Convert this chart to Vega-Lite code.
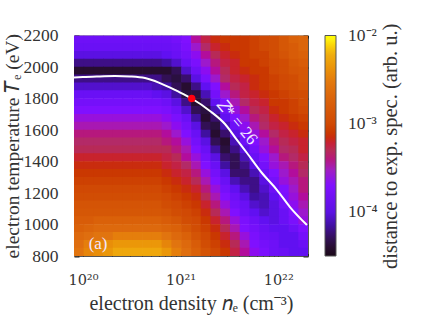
{"$schema":"https://vega.github.io/schema/vega-lite/v6.json","width":234,"height":220.5,"autosize":"none","padding":{"left":74,"top":35.5,"right":128,"bottom":71},"background":"white","config":{"view":{"stroke":"#555","strokeWidth":1},"font":"Liberation Serif"},"resolve":{"axis":{"x":"independent","y":"independent"}},"layer":[{"data":{"values":[
{"n":9.1e19,"T":2175,"v":1.4e-4},{"n":1.15e20,"T":2175,"v":1.4e-4},{"n":1.45e20,"T":2175,"v":1.4e-4},{"n":1.82e20,"T":2175,"v":1.4e-4},{"n":2.29e20,"T":2175,"v":1.4e-4},{"n":2.88e20,"T":2175,"v":1.4e-4},{"n":3.63e20,"T":2175,"v":1.4e-4},{"n":4.57e20,"T":2175,"v":1.4e-4},{"n":5.75e20,"T":2175,"v":1.4e-4},{"n":7.24e20,"T":2175,"v":1.4e-4},{"n":9.12e20,"T":2175,"v":1.6e-4},{"n":1.15e21,"T":2175,"v":2e-4},{"n":1.45e21,"T":2175,"v":3.5e-4},{"n":1.82e21,"T":2175,"v":5.6e-4},{"n":2.29e21,"T":2175,"v":7e-4},{"n":2.88e21,"T":2175,"v":7.9e-4},{"n":3.63e21,"T":2175,"v":7.9e-4},{"n":4.57e21,"T":2175,"v":7.9e-4},{"n":5.75e21,"T":2175,"v":8.9e-4},{"n":7.24e21,"T":2175,"v":1e-3},{"n":9.12e21,"T":2175,"v":1.1e-3},{"n":1.15e22,"T":2175,"v":1.4e-3},{"n":1.45e22,"T":2175,"v":1.8e-3},{"n":1.82e22,"T":2175,"v":2e-3},
{"n":9.1e19,"T":2125,"v":1.3e-4},{"n":1.15e20,"T":2125,"v":1.3e-4},{"n":1.45e20,"T":2125,"v":1.3e-4},{"n":1.82e20,"T":2125,"v":1.3e-4},{"n":2.29e20,"T":2125,"v":1.3e-4},{"n":2.88e20,"T":2125,"v":1.3e-4},{"n":3.63e20,"T":2125,"v":1.3e-4},{"n":4.57e20,"T":2125,"v":1.3e-4},{"n":5.75e20,"T":2125,"v":1.3e-4},{"n":7.24e20,"T":2125,"v":1.3e-4},{"n":9.12e20,"T":2125,"v":1.4e-4},{"n":1.15e21,"T":2125,"v":1.8e-4},{"n":1.45e21,"T":2125,"v":2.8e-4},{"n":1.82e21,"T":2125,"v":4.5e-4},{"n":2.29e21,"T":2125,"v":6.3e-4},{"n":2.88e21,"T":2125,"v":7e-4},{"n":3.63e21,"T":2125,"v":7.9e-4},{"n":4.57e21,"T":2125,"v":7.9e-4},{"n":5.75e21,"T":2125,"v":8.9e-4},{"n":7.24e21,"T":2125,"v":1e-3},{"n":9.12e21,"T":2125,"v":1.1e-3},{"n":1.15e22,"T":2125,"v":1.4e-3},{"n":1.45e22,"T":2125,"v":1.6e-3},{"n":1.82e22,"T":2125,"v":2e-3},
{"n":9.1e19,"T":2075,"v":1e-4},{"n":1.15e20,"T":2075,"v":1e-4},{"n":1.45e20,"T":2075,"v":1e-4},{"n":1.82e20,"T":2075,"v":1e-4},{"n":2.29e20,"T":2075,"v":1e-4},{"n":2.88e20,"T":2075,"v":1e-4},{"n":3.63e20,"T":2075,"v":1e-4},{"n":4.57e20,"T":2075,"v":1e-4},{"n":5.75e20,"T":2075,"v":1e-4},{"n":7.24e20,"T":2075,"v":1.1e-4},{"n":9.12e20,"T":2075,"v":1.3e-4},{"n":1.15e21,"T":2075,"v":1.6e-4},{"n":1.45e21,"T":2075,"v":2.2e-4},{"n":1.82e21,"T":2075,"v":3.5e-4},{"n":2.29e21,"T":2075,"v":5e-4},{"n":2.88e21,"T":2075,"v":6.3e-4},{"n":3.63e21,"T":2075,"v":7e-4},{"n":4.57e21,"T":2075,"v":7.9e-4},{"n":5.75e21,"T":2075,"v":8.9e-4},{"n":7.24e21,"T":2075,"v":8.9e-4},{"n":9.12e21,"T":2075,"v":1.1e-3},{"n":1.15e22,"T":2075,"v":1.3e-3},{"n":1.45e22,"T":2075,"v":1.6e-3},{"n":1.82e22,"T":2075,"v":1.8e-3},
{"n":9.1e19,"T":2025,"v":6.3e-5},{"n":1.15e20,"T":2025,"v":6.3e-5},{"n":1.45e20,"T":2025,"v":6.3e-5},{"n":1.82e20,"T":2025,"v":6.3e-5},{"n":2.29e20,"T":2025,"v":6.3e-5},{"n":2.88e20,"T":2025,"v":6.3e-5},{"n":3.63e20,"T":2025,"v":6.3e-5},{"n":4.57e20,"T":2025,"v":6.3e-5},{"n":5.75e20,"T":2025,"v":6.3e-5},{"n":7.24e20,"T":2025,"v":7e-5},{"n":9.12e20,"T":2025,"v":8.9e-5},{"n":1.15e21,"T":2025,"v":1.3e-4},{"n":1.45e21,"T":2025,"v":1.8e-4},{"n":1.82e21,"T":2025,"v":2.8e-4},{"n":2.29e21,"T":2025,"v":4e-4},{"n":2.88e21,"T":2025,"v":5.6e-4},{"n":3.63e21,"T":2025,"v":6.3e-4},{"n":4.57e21,"T":2025,"v":7.9e-4},{"n":5.75e21,"T":2025,"v":7.9e-4},{"n":7.24e21,"T":2025,"v":8.9e-4},{"n":9.12e21,"T":2025,"v":1e-3},{"n":1.15e22,"T":2025,"v":1.1e-3},{"n":1.45e22,"T":2025,"v":1.4e-3},{"n":1.82e22,"T":2025,"v":1.6e-3},
{"n":9.1e19,"T":1975,"v":4e-5},{"n":1.15e20,"T":1975,"v":4e-5},{"n":1.45e20,"T":1975,"v":4e-5},{"n":1.82e20,"T":1975,"v":4e-5},{"n":2.29e20,"T":1975,"v":4e-5},{"n":2.88e20,"T":1975,"v":4e-5},{"n":3.63e20,"T":1975,"v":4e-5},{"n":4.57e20,"T":1975,"v":4e-5},{"n":5.75e20,"T":1975,"v":4e-5},{"n":7.24e20,"T":1975,"v":4e-5},{"n":9.12e20,"T":1975,"v":5e-5},{"n":1.15e21,"T":1975,"v":8.9e-5},{"n":1.45e21,"T":1975,"v":1.4e-4},{"n":1.82e21,"T":1975,"v":2.2e-4},{"n":2.29e21,"T":1975,"v":3.5e-4},{"n":2.88e21,"T":1975,"v":5e-4},{"n":3.63e21,"T":1975,"v":6.3e-4},{"n":4.57e21,"T":1975,"v":7e-4},{"n":5.75e21,"T":1975,"v":7.9e-4},{"n":7.24e21,"T":1975,"v":7.9e-4},{"n":9.12e21,"T":1975,"v":1e-3},{"n":1.15e22,"T":1975,"v":1.1e-3},{"n":1.45e22,"T":1975,"v":1.3e-3},{"n":1.82e22,"T":1975,"v":1.4e-3},
{"n":9.1e19,"T":1925,"v":6.3e-5},{"n":1.15e20,"T":1925,"v":6.3e-5},{"n":1.45e20,"T":1925,"v":6.3e-5},{"n":1.82e20,"T":1925,"v":6.3e-5},{"n":2.29e20,"T":1925,"v":6.3e-5},{"n":2.88e20,"T":1925,"v":6.3e-5},{"n":3.63e20,"T":1925,"v":6.3e-5},{"n":4.57e20,"T":1925,"v":6.3e-5},{"n":5.75e20,"T":1925,"v":6.3e-5},{"n":7.24e20,"T":1925,"v":5e-5},{"n":9.12e20,"T":1925,"v":4.5e-5},{"n":1.15e21,"T":1925,"v":5.6e-5},{"n":1.45e21,"T":1925,"v":1e-4},{"n":1.82e21,"T":1925,"v":1.8e-4},{"n":2.29e21,"T":1925,"v":2.8e-4},{"n":2.88e21,"T":1925,"v":4.5e-4},{"n":3.63e21,"T":1925,"v":5.6e-4},{"n":4.57e21,"T":1925,"v":6.3e-4},{"n":5.75e21,"T":1925,"v":7e-4},{"n":7.24e21,"T":1925,"v":7.9e-4},{"n":9.12e21,"T":1925,"v":8.9e-4},{"n":1.15e22,"T":1925,"v":1e-3},{"n":1.45e22,"T":1925,"v":1.1e-3},{"n":1.82e22,"T":1925,"v":1.4e-3},
{"n":9.1e19,"T":1875,"v":8.9e-5},{"n":1.15e20,"T":1875,"v":8.9e-5},{"n":1.45e20,"T":1875,"v":8.9e-5},{"n":1.82e20,"T":1875,"v":8.9e-5},{"n":2.29e20,"T":1875,"v":8.9e-5},{"n":2.88e20,"T":1875,"v":8.9e-5},{"n":3.63e20,"T":1875,"v":8.9e-5},{"n":4.57e20,"T":1875,"v":8.9e-5},{"n":5.75e20,"T":1875,"v":7.9e-5},{"n":7.24e20,"T":1875,"v":7e-5},{"n":9.12e20,"T":1875,"v":5e-5},{"n":1.15e21,"T":1875,"v":4e-5},{"n":1.45e21,"T":1875,"v":6.3e-5},{"n":1.82e21,"T":1875,"v":1.1e-4},{"n":2.29e21,"T":1875,"v":2e-4},{"n":2.88e21,"T":1875,"v":3.5e-4},{"n":3.63e21,"T":1875,"v":5e-4},{"n":4.57e21,"T":1875,"v":5.6e-4},{"n":5.75e21,"T":1875,"v":7e-4},{"n":7.24e21,"T":1875,"v":7.9e-4},{"n":9.12e21,"T":1875,"v":8.9e-4},{"n":1.15e22,"T":1875,"v":1e-3},{"n":1.45e22,"T":1875,"v":1.1e-3},{"n":1.82e22,"T":1875,"v":1.3e-3},
{"n":9.1e19,"T":1825,"v":1.3e-4},{"n":1.15e20,"T":1825,"v":1.3e-4},{"n":1.45e20,"T":1825,"v":1.3e-4},{"n":1.82e20,"T":1825,"v":1.3e-4},{"n":2.29e20,"T":1825,"v":1.3e-4},{"n":2.88e20,"T":1825,"v":1.3e-4},{"n":3.63e20,"T":1825,"v":1.3e-4},{"n":4.57e20,"T":1825,"v":1.3e-4},{"n":5.75e20,"T":1825,"v":1.1e-4},{"n":7.24e20,"T":1825,"v":1e-4},{"n":9.12e20,"T":1825,"v":7e-5},{"n":1.15e21,"T":1825,"v":4.5e-5},{"n":1.45e21,"T":1825,"v":4.5e-5},{"n":1.82e21,"T":1825,"v":7.9e-5},{"n":2.29e21,"T":1825,"v":1.6e-4},{"n":2.88e21,"T":1825,"v":2.8e-4},{"n":3.63e21,"T":1825,"v":4e-4},{"n":4.57e21,"T":1825,"v":5.6e-4},{"n":5.75e21,"T":1825,"v":6.3e-4},{"n":7.24e21,"T":1825,"v":7e-4},{"n":9.12e21,"T":1825,"v":7.9e-4},{"n":1.15e22,"T":1825,"v":8.9e-4},{"n":1.45e22,"T":1825,"v":1e-3},{"n":1.82e22,"T":1825,"v":1.1e-3},
{"n":9.1e19,"T":1775,"v":1.6e-4},{"n":1.15e20,"T":1775,"v":1.6e-4},{"n":1.45e20,"T":1775,"v":1.6e-4},{"n":1.82e20,"T":1775,"v":1.6e-4},{"n":2.29e20,"T":1775,"v":1.6e-4},{"n":2.88e20,"T":1775,"v":1.6e-4},{"n":3.63e20,"T":1775,"v":1.6e-4},{"n":4.57e20,"T":1775,"v":1.6e-4},{"n":5.75e20,"T":1775,"v":1.6e-4},{"n":7.24e20,"T":1775,"v":1.4e-4},{"n":9.12e20,"T":1775,"v":1e-4},{"n":1.15e21,"T":1775,"v":6.3e-5},{"n":1.45e21,"T":1775,"v":4e-5},{"n":1.82e21,"T":1775,"v":5.6e-5},{"n":2.29e21,"T":1775,"v":1.1e-4},{"n":2.88e21,"T":1775,"v":2e-4},{"n":3.63e21,"T":1775,"v":3.2e-4},{"n":4.57e21,"T":1775,"v":4.5e-4},{"n":5.75e21,"T":1775,"v":5.6e-4},{"n":7.24e21,"T":1775,"v":6.3e-4},{"n":9.12e21,"T":1775,"v":7.9e-4},{"n":1.15e22,"T":1775,"v":7.9e-4},{"n":1.45e22,"T":1775,"v":8.9e-4},{"n":1.82e22,"T":1775,"v":1.1e-3},
{"n":9.1e19,"T":1725,"v":2e-4},{"n":1.15e20,"T":1725,"v":2e-4},{"n":1.45e20,"T":1725,"v":2e-4},{"n":1.82e20,"T":1725,"v":2e-4},{"n":2.29e20,"T":1725,"v":2e-4},{"n":2.88e20,"T":1725,"v":2e-4},{"n":3.63e20,"T":1725,"v":2e-4},{"n":4.57e20,"T":1725,"v":2e-4},{"n":5.75e20,"T":1725,"v":2e-4},{"n":7.24e20,"T":1725,"v":1.8e-4},{"n":9.12e20,"T":1725,"v":1.4e-4},{"n":1.15e21,"T":1725,"v":8.9e-5},{"n":1.45e21,"T":1725,"v":5e-5},{"n":1.82e21,"T":1725,"v":4.5e-5},{"n":2.29e21,"T":1725,"v":7.9e-5},{"n":2.88e21,"T":1725,"v":1.4e-4},{"n":3.63e21,"T":1725,"v":2.5e-4},{"n":4.57e21,"T":1725,"v":3.5e-4},{"n":5.75e21,"T":1725,"v":5e-4},{"n":7.24e21,"T":1725,"v":5.6e-4},{"n":9.12e21,"T":1725,"v":7e-4},{"n":1.15e22,"T":1725,"v":7.9e-4},{"n":1.45e22,"T":1725,"v":8.9e-4},{"n":1.82e22,"T":1725,"v":1e-3},
{"n":9.1e19,"T":1675,"v":2.5e-4},{"n":1.15e20,"T":1675,"v":2.5e-4},{"n":1.45e20,"T":1675,"v":2.5e-4},{"n":1.82e20,"T":1675,"v":2.5e-4},{"n":2.29e20,"T":1675,"v":2.5e-4},{"n":2.88e20,"T":1675,"v":2.5e-4},{"n":3.63e20,"T":1675,"v":2.5e-4},{"n":4.57e20,"T":1675,"v":2.5e-4},{"n":5.75e20,"T":1675,"v":2.5e-4},{"n":7.24e20,"T":1675,"v":2.2e-4},{"n":9.12e20,"T":1675,"v":1.8e-4},{"n":1.15e21,"T":1675,"v":1.3e-4},{"n":1.45e21,"T":1675,"v":7e-5},{"n":1.82e21,"T":1675,"v":4e-5},{"n":2.29e21,"T":1675,"v":5.6e-5},{"n":2.88e21,"T":1675,"v":1.1e-4},{"n":3.63e21,"T":1675,"v":2e-4},{"n":4.57e21,"T":1675,"v":2.8e-4},{"n":5.75e21,"T":1675,"v":4e-4},{"n":7.24e21,"T":1675,"v":5e-4},{"n":9.12e21,"T":1675,"v":6.3e-4},{"n":1.15e22,"T":1675,"v":7e-4},{"n":1.45e22,"T":1675,"v":7.9e-4},{"n":1.82e22,"T":1675,"v":8.9e-4},
{"n":9.1e19,"T":1625,"v":3.2e-4},{"n":1.15e20,"T":1625,"v":3.2e-4},{"n":1.45e20,"T":1625,"v":3.2e-4},{"n":1.82e20,"T":1625,"v":3.2e-4},{"n":2.29e20,"T":1625,"v":3.2e-4},{"n":2.88e20,"T":1625,"v":3.2e-4},{"n":3.63e20,"T":1625,"v":3.2e-4},{"n":4.57e20,"T":1625,"v":3.2e-4},{"n":5.75e20,"T":1625,"v":3.2e-4},{"n":7.24e20,"T":1625,"v":2.8e-4},{"n":9.12e20,"T":1625,"v":2.2e-4},{"n":1.15e21,"T":1625,"v":1.6e-4},{"n":1.45e21,"T":1625,"v":1e-4},{"n":1.82e21,"T":1625,"v":5e-5},{"n":2.29e21,"T":1625,"v":4.5e-5},{"n":2.88e21,"T":1625,"v":7.9e-5},{"n":3.63e21,"T":1625,"v":1.4e-4},{"n":4.57e21,"T":1625,"v":2.2e-4},{"n":5.75e21,"T":1625,"v":3.2e-4},{"n":7.24e21,"T":1625,"v":4.5e-4},{"n":9.12e21,"T":1625,"v":5.6e-4},{"n":1.15e22,"T":1625,"v":6.3e-4},{"n":1.45e22,"T":1625,"v":7e-4},{"n":1.82e22,"T":1625,"v":7.9e-4},
{"n":9.1e19,"T":1575,"v":4e-4},{"n":1.15e20,"T":1575,"v":4e-4},{"n":1.45e20,"T":1575,"v":4e-4},{"n":1.82e20,"T":1575,"v":4e-4},{"n":2.29e20,"T":1575,"v":4e-4},{"n":2.88e20,"T":1575,"v":4e-4},{"n":3.63e20,"T":1575,"v":4e-4},{"n":4.57e20,"T":1575,"v":4e-4},{"n":5.75e20,"T":1575,"v":4e-4},{"n":7.24e20,"T":1575,"v":3.5e-4},{"n":9.12e20,"T":1575,"v":2.8e-4},{"n":1.15e21,"T":1575,"v":2e-4},{"n":1.45e21,"T":1575,"v":1.3e-4},{"n":1.82e21,"T":1575,"v":7e-5},{"n":2.29e21,"T":1575,"v":4e-5},{"n":2.88e21,"T":1575,"v":5.6e-5},{"n":3.63e21,"T":1575,"v":1e-4},{"n":4.57e21,"T":1575,"v":1.8e-4},{"n":5.75e21,"T":1575,"v":2.5e-4},{"n":7.24e21,"T":1575,"v":3.5e-4},{"n":9.12e21,"T":1575,"v":4.5e-4},{"n":1.15e22,"T":1575,"v":5.6e-4},{"n":1.45e22,"T":1575,"v":6.3e-4},{"n":1.82e22,"T":1575,"v":7e-4},
{"n":9.1e19,"T":1525,"v":4.5e-4},{"n":1.15e20,"T":1525,"v":4.5e-4},{"n":1.45e20,"T":1525,"v":4.5e-4},{"n":1.82e20,"T":1525,"v":4.5e-4},{"n":2.29e20,"T":1525,"v":4.5e-4},{"n":2.88e20,"T":1525,"v":4.5e-4},{"n":3.63e20,"T":1525,"v":4.5e-4},{"n":4.57e20,"T":1525,"v":4.5e-4},{"n":5.75e20,"T":1525,"v":4.5e-4},{"n":7.24e20,"T":1525,"v":4e-4},{"n":9.12e20,"T":1525,"v":3.5e-4},{"n":1.15e21,"T":1525,"v":2.5e-4},{"n":1.45e21,"T":1525,"v":1.6e-4},{"n":1.82e21,"T":1525,"v":1e-4},{"n":2.29e21,"T":1525,"v":5e-5},{"n":2.88e21,"T":1525,"v":4e-5},{"n":3.63e21,"T":1525,"v":7.9e-5},{"n":4.57e21,"T":1525,"v":1.4e-4},{"n":5.75e21,"T":1525,"v":2e-4},{"n":7.24e21,"T":1525,"v":2.8e-4},{"n":9.12e21,"T":1525,"v":4e-4},{"n":1.15e22,"T":1525,"v":5e-4},{"n":1.45e22,"T":1525,"v":5.6e-4},{"n":1.82e22,"T":1525,"v":6.3e-4},
{"n":9.1e19,"T":1475,"v":5e-4},{"n":1.15e20,"T":1475,"v":5e-4},{"n":1.45e20,"T":1475,"v":5e-4},{"n":1.82e20,"T":1475,"v":5e-4},{"n":2.29e20,"T":1475,"v":5e-4},{"n":2.88e20,"T":1475,"v":5e-4},{"n":3.63e20,"T":1475,"v":5e-4},{"n":4.57e20,"T":1475,"v":5e-4},{"n":5.75e20,"T":1475,"v":5e-4},{"n":7.24e20,"T":1475,"v":5e-4},{"n":9.12e20,"T":1475,"v":4e-4},{"n":1.15e21,"T":1475,"v":3.2e-4},{"n":1.45e21,"T":1475,"v":2e-4},{"n":1.82e21,"T":1475,"v":1.3e-4},{"n":2.29e21,"T":1475,"v":7e-5},{"n":2.88e21,"T":1475,"v":4.5e-5},{"n":3.63e21,"T":1475,"v":6.3e-5},{"n":4.57e21,"T":1475,"v":1e-4},{"n":5.75e21,"T":1475,"v":1.6e-4},{"n":7.24e21,"T":1475,"v":2.5e-4},{"n":9.12e21,"T":1475,"v":3.5e-4},{"n":1.15e22,"T":1475,"v":4.5e-4},{"n":1.45e22,"T":1475,"v":5e-4},{"n":1.82e22,"T":1475,"v":6.3e-4},
{"n":9.1e19,"T":1425,"v":6.3e-4},{"n":1.15e20,"T":1425,"v":6.3e-4},{"n":1.45e20,"T":1425,"v":6.3e-4},{"n":1.82e20,"T":1425,"v":6.3e-4},{"n":2.29e20,"T":1425,"v":6.3e-4},{"n":2.88e20,"T":1425,"v":6.3e-4},{"n":3.63e20,"T":1425,"v":6.3e-4},{"n":4.57e20,"T":1425,"v":6.3e-4},{"n":5.75e20,"T":1425,"v":6.3e-4},{"n":7.24e20,"T":1425,"v":5.6e-4},{"n":9.12e20,"T":1425,"v":5e-4},{"n":1.15e21,"T":1425,"v":3.5e-4},{"n":1.45e21,"T":1425,"v":2.5e-4},{"n":1.82e21,"T":1425,"v":1.6e-4},{"n":2.29e21,"T":1425,"v":1e-4},{"n":2.88e21,"T":1425,"v":5.6e-5},{"n":3.63e21,"T":1425,"v":5e-5},{"n":4.57e21,"T":1425,"v":7.9e-5},{"n":5.75e21,"T":1425,"v":1.3e-4},{"n":7.24e21,"T":1425,"v":2e-4},{"n":9.12e21,"T":1425,"v":2.8e-4},{"n":1.15e22,"T":1425,"v":4e-4},{"n":1.45e22,"T":1425,"v":4.5e-4},{"n":1.82e22,"T":1425,"v":5.6e-4},
{"n":9.1e19,"T":1375,"v":7e-4},{"n":1.15e20,"T":1375,"v":7e-4},{"n":1.45e20,"T":1375,"v":7e-4},{"n":1.82e20,"T":1375,"v":7e-4},{"n":2.29e20,"T":1375,"v":7e-4},{"n":2.88e20,"T":1375,"v":7e-4},{"n":3.63e20,"T":1375,"v":7e-4},{"n":4.57e20,"T":1375,"v":7e-4},{"n":5.75e20,"T":1375,"v":7e-4},{"n":7.24e20,"T":1375,"v":6.3e-4},{"n":9.12e20,"T":1375,"v":5.6e-4},{"n":1.15e21,"T":1375,"v":4.5e-4},{"n":1.45e21,"T":1375,"v":3.2e-4},{"n":1.82e21,"T":1375,"v":2e-4},{"n":2.29e21,"T":1375,"v":1.3e-4},{"n":2.88e21,"T":1375,"v":7e-5},{"n":3.63e21,"T":1375,"v":5e-5},{"n":4.57e21,"T":1375,"v":6.3e-5},{"n":5.75e21,"T":1375,"v":1e-4},{"n":7.24e21,"T":1375,"v":1.6e-4},{"n":9.12e21,"T":1375,"v":2.5e-4},{"n":1.15e22,"T":1375,"v":3.2e-4},{"n":1.45e22,"T":1375,"v":4e-4},{"n":1.82e22,"T":1375,"v":5e-4},
{"n":9.1e19,"T":1325,"v":7.9e-4},{"n":1.15e20,"T":1325,"v":7.9e-4},{"n":1.45e20,"T":1325,"v":7.9e-4},{"n":1.82e20,"T":1325,"v":7.9e-4},{"n":2.29e20,"T":1325,"v":7.9e-4},{"n":2.88e20,"T":1325,"v":7.9e-4},{"n":3.63e20,"T":1325,"v":7.9e-4},{"n":4.57e20,"T":1325,"v":7.9e-4},{"n":5.75e20,"T":1325,"v":7.9e-4},{"n":7.24e20,"T":1325,"v":7e-4},{"n":9.12e20,"T":1325,"v":6.3e-4},{"n":1.15e21,"T":1325,"v":5.6e-4},{"n":1.45e21,"T":1325,"v":4e-4},{"n":1.82e21,"T":1325,"v":2.5e-4},{"n":2.29e21,"T":1325,"v":1.6e-4},{"n":2.88e21,"T":1325,"v":1e-4},{"n":3.63e21,"T":1325,"v":5.6e-5},{"n":4.57e21,"T":1325,"v":5.6e-5},{"n":5.75e21,"T":1325,"v":7.9e-5},{"n":7.24e21,"T":1325,"v":1.3e-4},{"n":9.12e21,"T":1325,"v":2e-4},{"n":1.15e22,"T":1325,"v":2.8e-4},{"n":1.45e22,"T":1325,"v":3.5e-4},{"n":1.82e22,"T":1325,"v":4.5e-4},
{"n":9.1e19,"T":1275,"v":8.9e-4},{"n":1.15e20,"T":1275,"v":8.9e-4},{"n":1.45e20,"T":1275,"v":8.9e-4},{"n":1.82e20,"T":1275,"v":8.9e-4},{"n":2.29e20,"T":1275,"v":8.9e-4},{"n":2.88e20,"T":1275,"v":8.9e-4},{"n":3.63e20,"T":1275,"v":8.9e-4},{"n":4.57e20,"T":1275,"v":8.9e-4},{"n":5.75e20,"T":1275,"v":8.9e-4},{"n":7.24e20,"T":1275,"v":7.9e-4},{"n":9.12e20,"T":1275,"v":7e-4},{"n":1.15e21,"T":1275,"v":6.3e-4},{"n":1.45e21,"T":1275,"v":5e-4},{"n":1.82e21,"T":1275,"v":3.2e-4},{"n":2.29e21,"T":1275,"v":2e-4},{"n":2.88e21,"T":1275,"v":1.3e-4},{"n":3.63e21,"T":1275,"v":7.9e-5},{"n":4.57e21,"T":1275,"v":6.3e-5},{"n":5.75e21,"T":1275,"v":6.3e-5},{"n":7.24e21,"T":1275,"v":1e-4},{"n":9.12e21,"T":1275,"v":1.6e-4},{"n":1.15e22,"T":1275,"v":2.5e-4},{"n":1.45e22,"T":1275,"v":3.2e-4},{"n":1.82e22,"T":1275,"v":4e-4},
{"n":9.1e19,"T":1225,"v":1e-3},{"n":1.15e20,"T":1225,"v":1e-3},{"n":1.45e20,"T":1225,"v":1e-3},{"n":1.82e20,"T":1225,"v":1e-3},{"n":2.29e20,"T":1225,"v":1e-3},{"n":2.88e20,"T":1225,"v":1e-3},{"n":3.63e20,"T":1225,"v":1e-3},{"n":4.57e20,"T":1225,"v":1e-3},{"n":5.75e20,"T":1225,"v":1e-3},{"n":7.24e20,"T":1225,"v":8.9e-4},{"n":9.12e20,"T":1225,"v":7.9e-4},{"n":1.15e21,"T":1225,"v":7e-4},{"n":1.45e21,"T":1225,"v":6.3e-4},{"n":1.82e21,"T":1225,"v":4e-4},{"n":2.29e21,"T":1225,"v":2.5e-4},{"n":2.88e21,"T":1225,"v":1.6e-4},{"n":3.63e21,"T":1225,"v":1.1e-4},{"n":4.57e21,"T":1225,"v":7.9e-5},{"n":5.75e21,"T":1225,"v":6.3e-5},{"n":7.24e21,"T":1225,"v":8.9e-5},{"n":9.12e21,"T":1225,"v":1.4e-4},{"n":1.15e22,"T":1225,"v":2e-4},{"n":1.45e22,"T":1225,"v":2.8e-4},{"n":1.82e22,"T":1225,"v":4e-4},
{"n":9.1e19,"T":1175,"v":1.1e-3},{"n":1.15e20,"T":1175,"v":1.1e-3},{"n":1.45e20,"T":1175,"v":1.1e-3},{"n":1.82e20,"T":1175,"v":1.1e-3},{"n":2.29e20,"T":1175,"v":1.1e-3},{"n":2.88e20,"T":1175,"v":1.1e-3},{"n":3.63e20,"T":1175,"v":1.1e-3},{"n":4.57e20,"T":1175,"v":1.1e-3},{"n":5.75e20,"T":1175,"v":1.1e-3},{"n":7.24e20,"T":1175,"v":1e-3},{"n":9.12e20,"T":1175,"v":8.9e-4},{"n":1.15e21,"T":1175,"v":7.9e-4},{"n":1.45e21,"T":1175,"v":7e-4},{"n":1.82e21,"T":1175,"v":5e-4},{"n":2.29e21,"T":1175,"v":3.2e-4},{"n":2.88e21,"T":1175,"v":2e-4},{"n":3.63e21,"T":1175,"v":1.4e-4},{"n":4.57e21,"T":1175,"v":1e-4},{"n":5.75e21,"T":1175,"v":7e-5},{"n":7.24e21,"T":1175,"v":7.9e-5},{"n":9.12e21,"T":1175,"v":1.1e-4},{"n":1.15e22,"T":1175,"v":1.8e-4},{"n":1.45e22,"T":1175,"v":2.5e-4},{"n":1.82e22,"T":1175,"v":3.5e-4},
{"n":9.1e19,"T":1125,"v":1.3e-3},{"n":1.15e20,"T":1125,"v":1.3e-3},{"n":1.45e20,"T":1125,"v":1.3e-3},{"n":1.82e20,"T":1125,"v":1.3e-3},{"n":2.29e20,"T":1125,"v":1.3e-3},{"n":2.88e20,"T":1125,"v":1.3e-3},{"n":3.63e20,"T":1125,"v":1.3e-3},{"n":4.57e20,"T":1125,"v":1.3e-3},{"n":5.75e20,"T":1125,"v":1.3e-3},{"n":7.24e20,"T":1125,"v":1.1e-3},{"n":9.12e20,"T":1125,"v":1e-3},{"n":1.15e21,"T":1125,"v":8.9e-4},{"n":1.45e21,"T":1125,"v":7.9e-4},{"n":1.82e21,"T":1125,"v":6.3e-4},{"n":2.29e21,"T":1125,"v":4e-4},{"n":2.88e21,"T":1125,"v":2.5e-4},{"n":3.63e21,"T":1125,"v":1.6e-4},{"n":4.57e21,"T":1125,"v":1.3e-4},{"n":5.75e21,"T":1125,"v":8.9e-5},{"n":7.24e21,"T":1125,"v":7.9e-5},{"n":9.12e21,"T":1125,"v":1e-4},{"n":1.15e22,"T":1125,"v":1.6e-4},{"n":1.45e22,"T":1125,"v":2.2e-4},{"n":1.82e22,"T":1125,"v":3.2e-4},
{"n":9.1e19,"T":1075,"v":1.4e-3},{"n":1.15e20,"T":1075,"v":1.4e-3},{"n":1.45e20,"T":1075,"v":1.4e-3},{"n":1.82e20,"T":1075,"v":1.4e-3},{"n":2.29e20,"T":1075,"v":1.4e-3},{"n":2.88e20,"T":1075,"v":1.4e-3},{"n":3.63e20,"T":1075,"v":1.4e-3},{"n":4.57e20,"T":1075,"v":1.4e-3},{"n":5.75e20,"T":1075,"v":1.4e-3},{"n":7.24e20,"T":1075,"v":1.3e-3},{"n":9.12e20,"T":1075,"v":1.1e-3},{"n":1.15e21,"T":1075,"v":1e-3},{"n":1.45e21,"T":1075,"v":8.9e-4},{"n":1.82e21,"T":1075,"v":7e-4},{"n":2.29e21,"T":1075,"v":5e-4},{"n":2.88e21,"T":1075,"v":3.2e-4},{"n":3.63e21,"T":1075,"v":2e-4},{"n":4.57e21,"T":1075,"v":1.4e-4},{"n":5.75e21,"T":1075,"v":1.1e-4},{"n":7.24e21,"T":1075,"v":8.9e-5},{"n":9.12e21,"T":1075,"v":1e-4},{"n":1.15e22,"T":1075,"v":1.3e-4},{"n":1.45e22,"T":1075,"v":2e-4},{"n":1.82e22,"T":1075,"v":2.8e-4},
{"n":9.1e19,"T":1025,"v":1.6e-3},{"n":1.15e20,"T":1025,"v":1.6e-3},{"n":1.45e20,"T":1025,"v":1.8e-3},{"n":1.82e20,"T":1025,"v":1.8e-3},{"n":2.29e20,"T":1025,"v":1.8e-3},{"n":2.88e20,"T":1025,"v":1.8e-3},{"n":3.63e20,"T":1025,"v":1.8e-3},{"n":4.57e20,"T":1025,"v":1.8e-3},{"n":5.75e20,"T":1025,"v":1.8e-3},{"n":7.24e20,"T":1025,"v":1.6e-3},{"n":9.12e20,"T":1025,"v":1.4e-3},{"n":1.15e21,"T":1025,"v":1.1e-3},{"n":1.45e21,"T":1025,"v":1e-3},{"n":1.82e21,"T":1025,"v":7.9e-4},{"n":2.29e21,"T":1025,"v":6.3e-4},{"n":2.88e21,"T":1025,"v":4e-4},{"n":3.63e21,"T":1025,"v":2.5e-4},{"n":4.57e21,"T":1025,"v":1.8e-4},{"n":5.75e21,"T":1025,"v":1.4e-4},{"n":7.24e21,"T":1025,"v":1.1e-4},{"n":9.12e21,"T":1025,"v":1e-4},{"n":1.15e22,"T":1025,"v":1.3e-4},{"n":1.45e22,"T":1025,"v":1.8e-4},{"n":1.82e22,"T":1025,"v":2.5e-4},
{"n":9.1e19,"T":975,"v":1.8e-3},{"n":1.15e20,"T":975,"v":2e-3},{"n":1.45e20,"T":975,"v":2.2e-3},{"n":1.82e20,"T":975,"v":2.2e-3},{"n":2.29e20,"T":975,"v":2.2e-3},{"n":2.88e20,"T":975,"v":2.2e-3},{"n":3.63e20,"T":975,"v":2.2e-3},{"n":4.57e20,"T":975,"v":2.2e-3},{"n":5.75e20,"T":975,"v":2.2e-3},{"n":7.24e20,"T":975,"v":2e-3},{"n":9.12e20,"T":975,"v":1.8e-3},{"n":1.15e21,"T":975,"v":1.4e-3},{"n":1.45e21,"T":975,"v":1.1e-3},{"n":1.82e21,"T":975,"v":8.9e-4},{"n":2.29e21,"T":975,"v":7e-4},{"n":2.88e21,"T":975,"v":5e-4},{"n":3.63e21,"T":975,"v":3.2e-4},{"n":4.57e21,"T":975,"v":2e-4},{"n":5.75e21,"T":975,"v":1.6e-4},{"n":7.24e21,"T":975,"v":1.3e-4},{"n":9.12e21,"T":975,"v":1.1e-4},{"n":1.15e22,"T":975,"v":1.1e-4},{"n":1.45e22,"T":975,"v":1.4e-4},{"n":1.82e22,"T":975,"v":2e-4},
{"n":9.1e19,"T":925,"v":2.2e-3},{"n":1.15e20,"T":925,"v":2.5e-3},{"n":1.45e20,"T":925,"v":2.8e-3},{"n":1.82e20,"T":925,"v":2.8e-3},{"n":2.29e20,"T":925,"v":3.2e-3},{"n":2.88e20,"T":925,"v":3.2e-3},{"n":3.63e20,"T":925,"v":3.2e-3},{"n":4.57e20,"T":925,"v":3.2e-3},{"n":5.75e20,"T":925,"v":3.2e-3},{"n":7.24e20,"T":925,"v":2.8e-3},{"n":9.12e20,"T":925,"v":2.2e-3},{"n":1.15e21,"T":925,"v":1.8e-3},{"n":1.45e21,"T":925,"v":1.3e-3},{"n":1.82e21,"T":925,"v":1e-3},{"n":2.29e21,"T":925,"v":7.9e-4},{"n":2.88e21,"T":925,"v":6.3e-4},{"n":3.63e21,"T":925,"v":4e-4},{"n":4.57e21,"T":925,"v":2.5e-4},{"n":5.75e21,"T":925,"v":1.8e-4},{"n":7.24e21,"T":925,"v":1.4e-4},{"n":9.12e21,"T":925,"v":1.3e-4},{"n":1.15e22,"T":925,"v":1.1e-4},{"n":1.45e22,"T":925,"v":1.1e-4},{"n":1.82e22,"T":925,"v":1.6e-4},
{"n":9.1e19,"T":875,"v":2.5e-3},{"n":1.15e20,"T":875,"v":3.2e-3},{"n":1.45e20,"T":875,"v":3.5e-3},{"n":1.82e20,"T":875,"v":4e-3},{"n":2.29e20,"T":875,"v":4.5e-3},{"n":2.88e20,"T":875,"v":4.5e-3},{"n":3.63e20,"T":875,"v":4.5e-3},{"n":4.57e20,"T":875,"v":4.5e-3},{"n":5.75e20,"T":875,"v":4.5e-3},{"n":7.24e20,"T":875,"v":3.5e-3},{"n":9.12e20,"T":875,"v":2.8e-3},{"n":1.15e21,"T":875,"v":2.2e-3},{"n":1.45e21,"T":875,"v":1.6e-3},{"n":1.82e21,"T":875,"v":1.1e-3},{"n":2.29e21,"T":875,"v":8.9e-4},{"n":2.88e21,"T":875,"v":7e-4},{"n":3.63e21,"T":875,"v":5e-4},{"n":4.57e21,"T":875,"v":3.2e-4},{"n":5.75e21,"T":875,"v":2e-4},{"n":7.24e21,"T":875,"v":1.6e-4},{"n":9.12e21,"T":875,"v":1.4e-4},{"n":1.15e22,"T":875,"v":1.1e-4},{"n":1.45e22,"T":875,"v":1.1e-4},{"n":1.82e22,"T":875,"v":1.3e-4},
{"n":9.1e19,"T":825,"v":2.8e-3},{"n":1.15e20,"T":825,"v":3.5e-3},{"n":1.45e20,"T":825,"v":4e-3},{"n":1.82e20,"T":825,"v":4.5e-3},{"n":2.29e20,"T":825,"v":5.6e-3},{"n":2.88e20,"T":825,"v":5.6e-3},{"n":3.63e20,"T":825,"v":5.6e-3},{"n":4.57e20,"T":825,"v":5.6e-3},{"n":5.75e20,"T":825,"v":5.6e-3},{"n":7.24e20,"T":825,"v":4.5e-3},{"n":9.12e20,"T":825,"v":3.2e-3},{"n":1.15e21,"T":825,"v":2.5e-3},{"n":1.45e21,"T":825,"v":1.8e-3},{"n":1.82e21,"T":825,"v":1.3e-3},{"n":2.29e21,"T":825,"v":1e-3},{"n":2.88e21,"T":825,"v":7.9e-4},{"n":3.63e21,"T":825,"v":5.6e-4},{"n":4.57e21,"T":825,"v":3.5e-4},{"n":5.75e21,"T":825,"v":2.2e-4},{"n":7.24e21,"T":825,"v":1.8e-4},{"n":9.12e21,"T":825,"v":1.4e-4},{"n":1.15e22,"T":825,"v":1.3e-4},{"n":1.45e22,"T":825,"v":1.1e-4},{"n":1.82e22,"T":825,"v":1.1e-4}
]},"mark":{"type":"rect","width":10.5,"height":8.5,"clip":true},"encoding":{"x":{"field":"n","type":"quantitative","scale":{"type":"log","domain":[8.1e19,2.02e22],"nice":false},"axis":{"orient":"bottom","title":"electron density 𝑛ₑ (cm⁻³)","titleFont":"Liberation Serif","titleFontSize":20,"titleFontWeight":"normal","titleColor":"#333","titlePadding":4,"values":[9e19,1e20,2e20,3e20,4e20,5e20,6e20,7e20,8e20,9e20,1e21,2e21,3e21,4e21,5e21,6e21,7e21,8e21,9e21,1e22,2e22],"labelExpr":"datum.value==1e20?'10²⁰':datum.value==1e21?'10²¹':datum.value==1e22?'10²²':''","labelFont":"DejaVu Serif","labelFontSize":14.5,"labelColor":"#333","labelOverlap":false,"labelPadding":22,"labelFlush":false,"grid":false,"domain":false,"tickColor":"#222","tickWidth":1,"tickSize":{"condition":{"test":"datum.value==1e20||datum.value==1e21||datum.value==1e22","value":-5},"value":-2.5}}},"y":{"field":"T","type":"quantitative","scale":{"domain":[800,2200],"nice":false},"axis":{"orient":"left","title":"electron temperature 𝑇ₑ (eV)","titleFont":"Liberation Serif","titleFontSize":19.5,"titleFontWeight":"normal","titleColor":"#333","titlePadding":1,"values":[800,1000,1200,1400,1600,1800,2000,2200],"format":"d","labelFont":"Liberation Serif","labelFontSize":17.5,"labelColor":"#333","labelPadding":21,"grid":false,"domain":false,"tickColor":"#222","tickWidth":1,"tickSize":-5}},"color":{"field":"v","type":"quantitative","scale":{"type":"log","domain":[3.2e-5,4.5e-5,7e-5,1.07e-4,2e-4,3.05e-4,4.7e-4,7.2e-4,1.02e-3,2.66e-3,6.3e-3,8.9e-3,1e-2],"range":["#1a0818","#2a1040","#4010a0","#6010f0","#8010ff","#a020c0","#b03060","#c83000","#d04a04","#e07010","#f0b010","#ffee10","#ffff00"]},"legend":{"orient":"none","legendX":251,"legendY":0,"title":null,"gradientLength":220.5,"gradientThickness":11,"gradientStrokeColor":"#555","gradientStrokeWidth":1,"values":[1e-4,1e-3,1e-2],"labelExpr":"datum.value==1e-4?'10⁻⁴':datum.value==1e-3?'10⁻³':'10⁻²'","labelFont":"Liberation Serif","labelFontSize":17.5,"labelColor":"#333","labelOffset":12,"encode":{"labels":{"update":{"baseline":{"value":"middle"}}}}}}}},{"data":{"values":[{"n":8.1e19,"T":1933},{"n":1e20,"T":1936},{"n":1.49e20,"T":1940},{"n":2.13e20,"T":1943},{"n":3.03e20,"T":1940},{"n":4.32e20,"T":1930},{"n":6.15e20,"T":1898},{"n":9.18e20,"T":1848},{"n":1.3e21,"T":1800},{"n":2e21,"T":1721},{"n":2.85e21,"T":1638},{"n":3.78e21,"T":1537},{"n":4.79e21,"T":1454},{"n":6.82e21,"T":1327},{"n":9.73e21,"T":1219},{"n":1.32e22,"T":1111},{"n":1.97e22,"T":997}]},"mark":{"type":"line","color":"white","strokeWidth":2,"clip":true,"interpolate":"monotone"},"encoding":{"x":{"field":"n","type":"quantitative","scale":{"type":"log","domain":[8.1e19,2.02e22],"nice":false},"axis":{"orient":"top","title":null,"values":[9e19,1e20,2e20,3e20,4e20,5e20,6e20,7e20,8e20,9e20,1e21,2e21,3e21,4e21,5e21,6e21,7e21,8e21,9e21,1e22,2e22],"labels":false,"grid":false,"domain":false,"tickColor":"#222","tickWidth":1,"tickSize":{"condition":{"test":"datum.value==1e20||datum.value==1e21||datum.value==1e22","value":-5},"value":-2.5}}},"y":{"field":"T","type":"quantitative","scale":{"domain":[800,2200],"nice":false},"axis":{"orient":"right","title":"distance to exp. spec. (arb. u.)","titleFont":"Liberation Serif","titleFontSize":20.5,"titleFontWeight":"normal","titleColor":"#333","titleX":92,"titleAngle":270,"values":[800,1000,1200,1400,1600,1800,2000,2200],"labels":false,"grid":false,"domain":false,"tickColor":"#222","tickWidth":1,"tickSize":-5}}}},{"data":{"values":[{"n":1.3e21,"T":1800}]},"mark":{"type":"point","filled":true,"color":"#ff0010","size":55,"opacity":1},"encoding":{"x":{"field":"n","type":"quantitative","scale":{"type":"log","domain":[8.1e19,2.02e22],"nice":false},"axis":null},"y":{"field":"T","type":"quantitative","scale":{"domain":[800,2200],"nice":false},"axis":null}}},{"data":{"values":[{"n":1.43e20,"T":876,"label":"(a)","angle":0},{"n":3.78e21,"T":1651,"label":"𝑍* = 26","angle":50}]},"mark":{"type":"text","color":"#f2e6ff","font":"Liberation Serif","fontSize":17},"encoding":{"x":{"field":"n","type":"quantitative","scale":{"type":"log","domain":[8.1e19,2.02e22],"nice":false},"axis":null},"y":{"field":"T","type":"quantitative","scale":{"domain":[800,2200],"nice":false},"axis":null},"text":{"field":"label"},"angle":{"field":"angle","type":"quantitative","scale":null}}}]}
